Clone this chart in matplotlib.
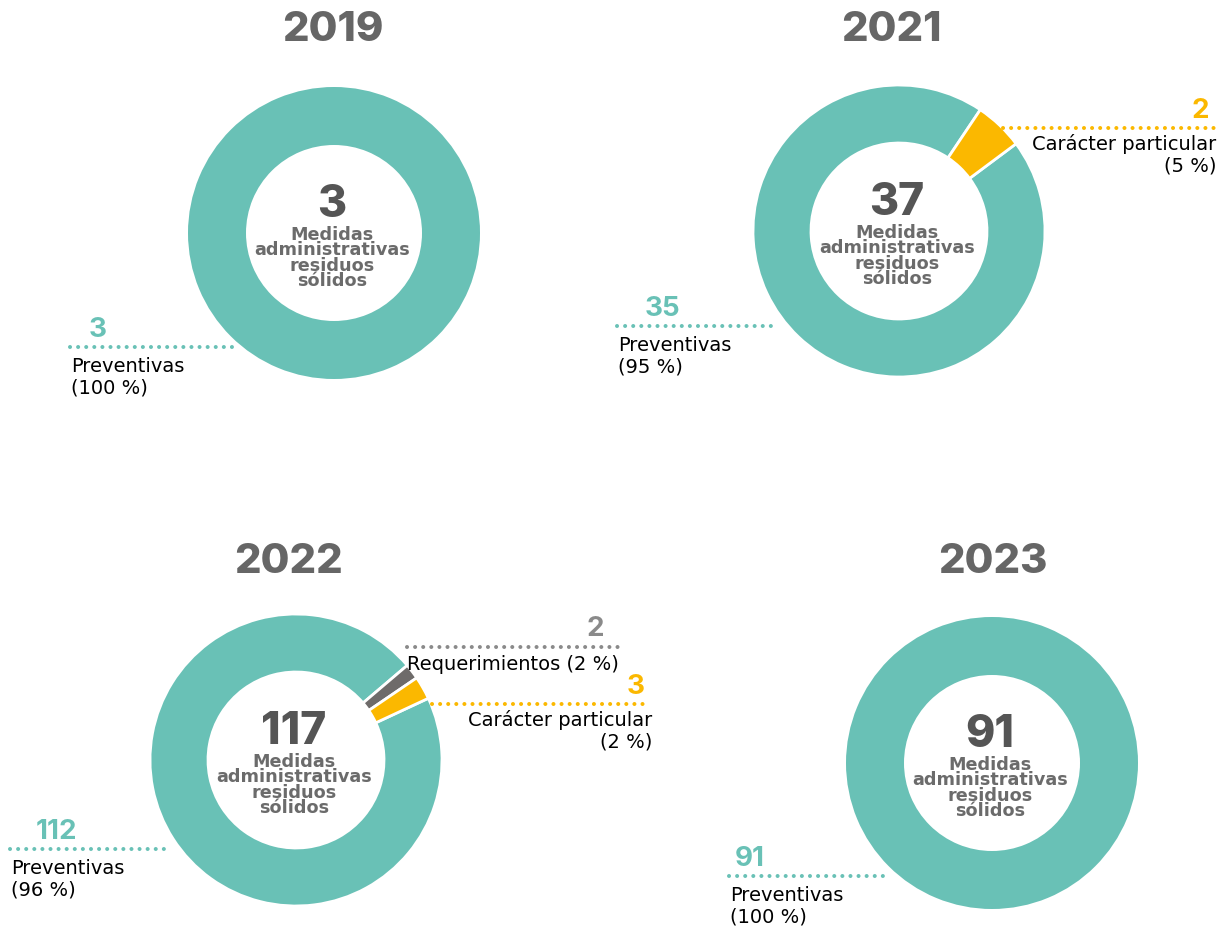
import matplotlib.pyplot as plt

# Data
years = ['2019', '2021', '2022', '2023']
totals = [3, 37, 117, 91]
preventivas = [3, 35, 112, 91]
requerimientos = [0, 0, 2, 0]
caracter = [0, 2, 3, 0]
prev_pct = ['100 %', '95 %', '96 %', '100 %']
req_pct = ['', '', '2 %', '']
car_pct = ['', '5 %', '2 %', '']
center_text = 'Medidas\nadministrativas\nresiduos\nsólidos'

TEAL = '#69c1b6'
YELLOW = '#fbb800'
GREY = '#6e6b6a'
DARK = '#555555'
TITLE = '#666666'

W, H = 1224, 927
FONT = ['Inter', 'DejaVu Sans']
WIDE = ['DejaVu Sans']

# layout per panel (pixel coords, y from top)
centers = [(334, 233), (899, 231), (296, 760), (992, 763)]
title_pos = [(333, 30), (891, 30), (289, 562), (993, 562)]
start_angles = [90, 36.7, 25, 90]
prev_lines = [(70, 232, 347), (617, 776, 326), (10, 170, 849), (729, 888, 876)]
prev_num_x = [98, 662, 56, 750]
car_lines = [None, (1003, 1214, 128), (432, 650, 704), None]
req_lines = [None, None, (407, 620, 647), None]
R_OUT, R_IN = 146, 88

fig = plt.figure(figsize=(12.24, 9.27), dpi=100)
ax = fig.add_axes([0, 0, 1, 1])


def yy(y):
    return H - y


def dotted(x0, x1, y, color):
    ax.plot([x0, x1], [yy(y), yy(y)], color=color, lw=2.9,
            ls=(0, (0.01, 2.0)), dash_capstyle='round', solid_capstyle='round')


for i, year in enumerate(years):
    cx, cy = centers[i]
    vals = [preventivas[i], requerimientos[i], caracter[i]]
    cols = [TEAL, GREY, YELLOW]
    sl = [(v, c) for v, c in zip(vals, cols) if v > 0]
    ax.pie([v for v, c in sl], colors=[c for v, c in sl], center=(cx, yy(cy)),
           radius=R_OUT, startangle=start_angles[i], counterclock=False,
           wedgeprops=dict(width=R_OUT - R_IN, edgecolor='white',
                           linewidth=2 if len(sl) > 1 else 0),
           frame=True)

    tx, ty = title_pos[i]
    ax.text(tx, yy(ty), year, ha='center', va='center', fontsize=30,
            fontweight='heavy', color=TITLE, family=FONT)

    ax.text(cx - 2, yy(cy - 28), str(totals[i]), ha='center', va='center',
            fontsize=32, fontweight='heavy', color=DARK, family=FONT)
    ax.text(cx - 2, yy(cy + 25), center_text, ha='center', va='center',
            fontsize=12.7, fontweight='bold', color='#6b6b6b', family=WIDE,
            linespacing=0.8)

    # Preventivas label (left)
    x0, x1, ly = prev_lines[i]
    dotted(x0, x1, ly, TEAL)
    ax.text(prev_num_x[i], yy(ly - 17), str(preventivas[i]), ha='center', va='center',
            fontsize=20, fontweight='bold', color=TEAL, family=FONT)
    ax.text(x0 + 1, yy(ly + 30), 'Preventivas\n(%s)' % prev_pct[i], ha='left',
            va='center', fontsize=14, color='black', family=WIDE, linespacing=1.15)

    if car_lines[i]:
        x0, x1, ly = car_lines[i]
        dotted(x0, x1, ly, YELLOW)
        ax.text(x1 - 14, yy(ly - 17), str(caracter[i]), ha='center', va='center',
                fontsize=20, fontweight='bold', color=YELLOW, family=FONT)
        ax.text(x1 + 2, yy(ly + 27), 'Carácter particular\n(%s)' % car_pct[i],
                ha='right', va='center', fontsize=14, color='black', family=WIDE,
                linespacing=1.15, multialignment='right')

    if req_lines[i]:
        x0, x1, ly = req_lines[i]
        dotted(x0, x1, ly, '#8a8a8a')
        ax.text(x1 - 25, yy(ly - 18), str(requerimientos[i]), ha='center', va='center',
                fontsize=20, fontweight='bold', color='#8a8a8a', family=FONT)
        ax.text(x0, yy(ly + 18), 'Requerimientos (%s)' % req_pct[i], ha='left',
                va='center', fontsize=14, color='black', family=WIDE)

ax.set_xlim(0, W)
ax.set_ylim(0, H)
ax.set_aspect('auto')
ax.axis('off')

fig.savefig('out.png', dpi=100, facecolor='white')
